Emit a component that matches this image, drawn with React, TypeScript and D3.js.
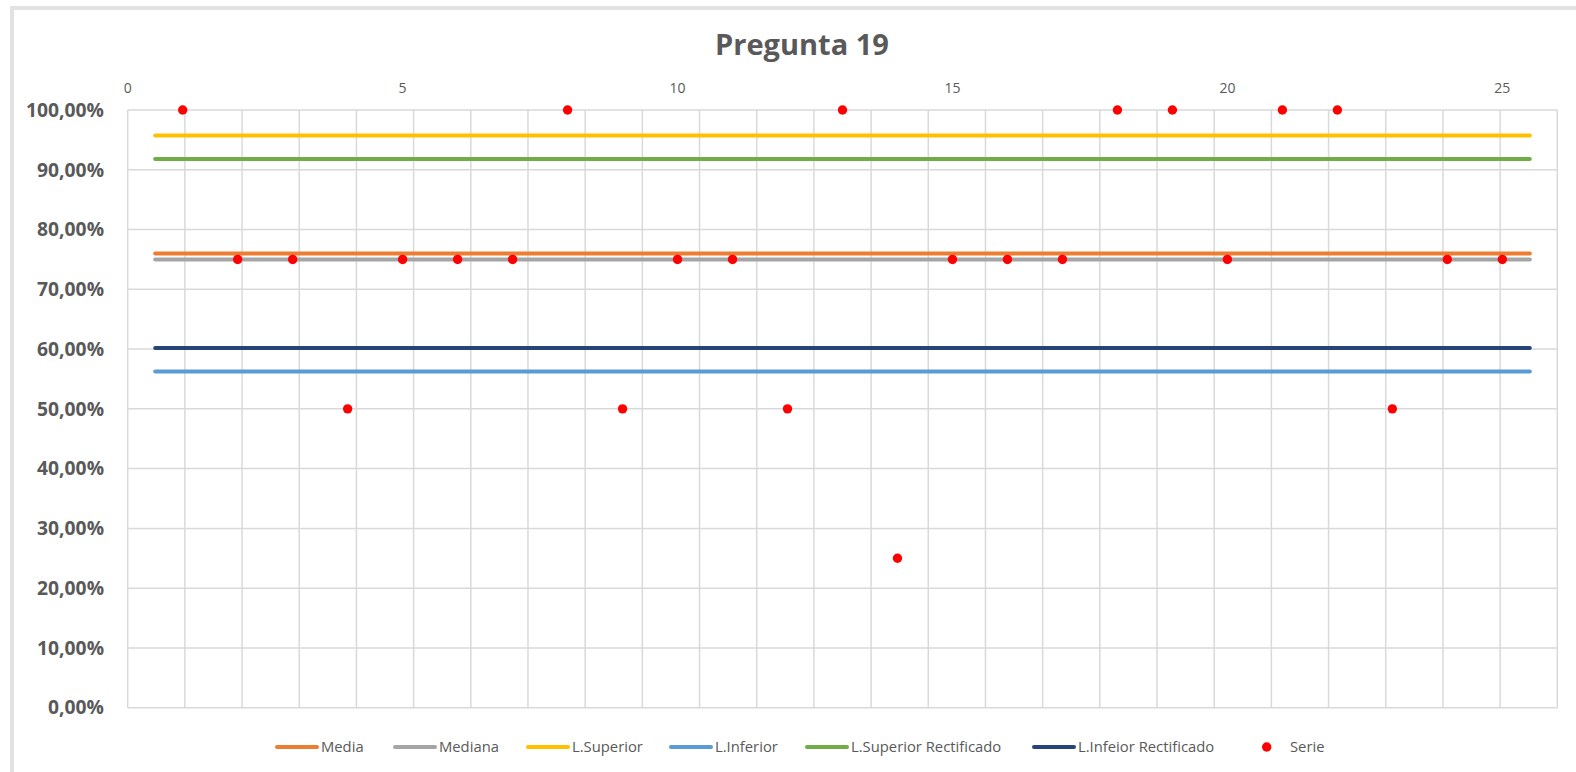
import React from "react";
import * as d3 from "d3";

const title = "Pregunta 19";
const questions = d3.range(1, 26);
const serie = [100, 75, 75, 50, 75, 75, 75, 100, 50, 75, 75, 50, 100, 25, 75, 75, 75, 100, 100, 75, 100, 100, 50, 75, 75];
const refNames = ["Media", "Mediana", "L.Superior", "L.Inferior", "L.Superior Rectificado", "L.Infeior Rectificado"];
const refValues = [76, 75, 95.74, 56.26, 91.8, 60.2];
const refColors = ["#ED7D31", "#A5A5A5", "#FFC000", "#5B9BD5", "#70AD47", "#264478"];
const xTicks = [0, 5, 10, 15, 20, 25];
const yTicks = [0, 10, 20, 30, 40, 50, 60, 70, 80, 90, 100];

const W = 1576, H = 772;
const X0 = 127.7, X1 = 1557.3, Y0 = 707.7, Y1 = 110;
const legendX = [277, 395, 528, 671, 807, 1034];
const legendY = 747;

export default function App() {
  const x = d3.scaleLinear().domain([0, 26]).range([X0, X1]);
  const y = d3.scaleLinear().domain([0, 100]).range([Y0, Y1]);
  const vGrid = d3.range(0, 26).map((i) => X0 + ((X1 - X0) * i) / 25);
  const fmt = (v: number) => v.toFixed(2).replace(".", ",") + "%";
  const font = "'Open Sans', sans-serif";
  return (
    <svg width={W} height={H} style={{ position: "absolute", left: 0, top: 0, background: "#fff" }}>
      <rect x={12} y={8} width={W + 20} height={H + 20} fill="#fff" stroke="#e2e2e2" strokeWidth={4} />
      <text x={802} y={55} textAnchor="middle" fontFamily={font} fontWeight={700} fontSize={29} fill="#595959">{title}</text>
      {yTicks.map((t) => (
        <line key={"h" + t} x1={X0} x2={X1} y1={y(t)} y2={y(t)} stroke="#d9d9d9" strokeWidth={1.5} />
      ))}
      {vGrid.map((gx, i) => (
        <line key={"v" + i} x1={gx} x2={gx} y1={Y1} y2={Y0} stroke="#d9d9d9" strokeWidth={1.5} />
      ))}
      {yTicks.map((t) => (
        <text key={"yl" + t} x={104} y={y(t)} dy="0.35em" textAnchor="end" fontFamily={font} fontWeight={700} fontSize={19.3} fill="#595959">{fmt(t)}</text>
      ))}
      {xTicks.map((t) => (
        <text key={"xl" + t} x={x(t)} y={88} dy="0.35em" textAnchor="middle" fontFamily={font} fontSize={14} fill="#595959">{t}</text>
      ))}
      {refValues.map((v, i) => (
        <line key={"r" + i} x1={x(0.5)} x2={x(25.5)} y1={y(v)} y2={y(v)} stroke={refColors[i]} strokeWidth={4} strokeLinecap="round" />
      ))}
      {serie.map((v, i) => (
        <circle key={"p" + i} cx={x(questions[i])} cy={y(v)} r={4.7} fill="#FF0000" />
      ))}
      {refNames.map((n, i) => (
        <g key={"lg" + i}>
          <line x1={legendX[i]} x2={legendX[i] + 40} y1={legendY} y2={legendY} stroke={refColors[i]} strokeWidth={4} strokeLinecap="round" />
          <text x={legendX[i] + 44} y={legendY} dy="0.35em" fontFamily={font} fontSize={14.8} fill="#595959">{n}</text>
        </g>
      ))}
      <circle cx={1266.7} cy={legendY} r={4.7} fill="#FF0000" />
      <text x={1290} y={legendY} dy="0.35em" fontFamily={font} fontSize={14.8} fill="#595959">Serie</text>
    </svg>
  );
}
